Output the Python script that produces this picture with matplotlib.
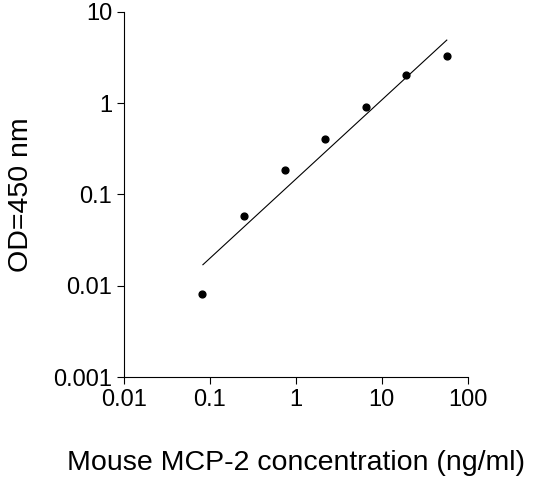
import matplotlib
matplotlib.use("Agg")
import matplotlib.pyplot as plt
import numpy as np

plt.rcParams['font.family'] = ['Liberation Sans', 'DejaVu Sans']

# data
conc = [0.082, 0.25, 0.74, 2.2, 6.5, 19.2, 57]
od = [0.0081, 0.058, 0.186, 0.40, 0.91, 2.04, 3.3]
fit_x = [0.083, 57]
fit_y = [0.017, 4.9]

fig = plt.figure(figsize=(5.34, 4.91), dpi=100)
ax = fig.add_axes([0.232, 0.232, 0.644, 0.744])

ax.plot(fit_x, fit_y, color='black', linewidth=0.8)
ax.scatter(conc, od, color='black', s=24, zorder=3)

ax.set_xscale('log')
ax.set_yscale('log')
ax.set_xlim(0.01, 100)
ax.set_ylim(0.001, 10)
ax.set_xticks([0.01, 0.1, 1, 10, 100])
ax.set_xticklabels(['0.01', '0.1', '1', '10', '100'])
ax.set_yticks([0.001, 0.01, 0.1, 1, 10])
ax.set_yticklabels(['0.001', '0.01', '0.1', '1', '10'])
ax.minorticks_off()
ax.tick_params(labelsize=17, direction='out', length=5)

ax.spines['top'].set_visible(False)
ax.spines['right'].set_visible(False)

ax.set_xlabel('Mouse MCP-2 concentration (ng/ml)', fontsize=20.5, labelpad=28)
ax.set_ylabel('OD=450 nm', fontsize=20.5, labelpad=14)

fig.savefig('out.png', dpi=100, facecolor='white')
